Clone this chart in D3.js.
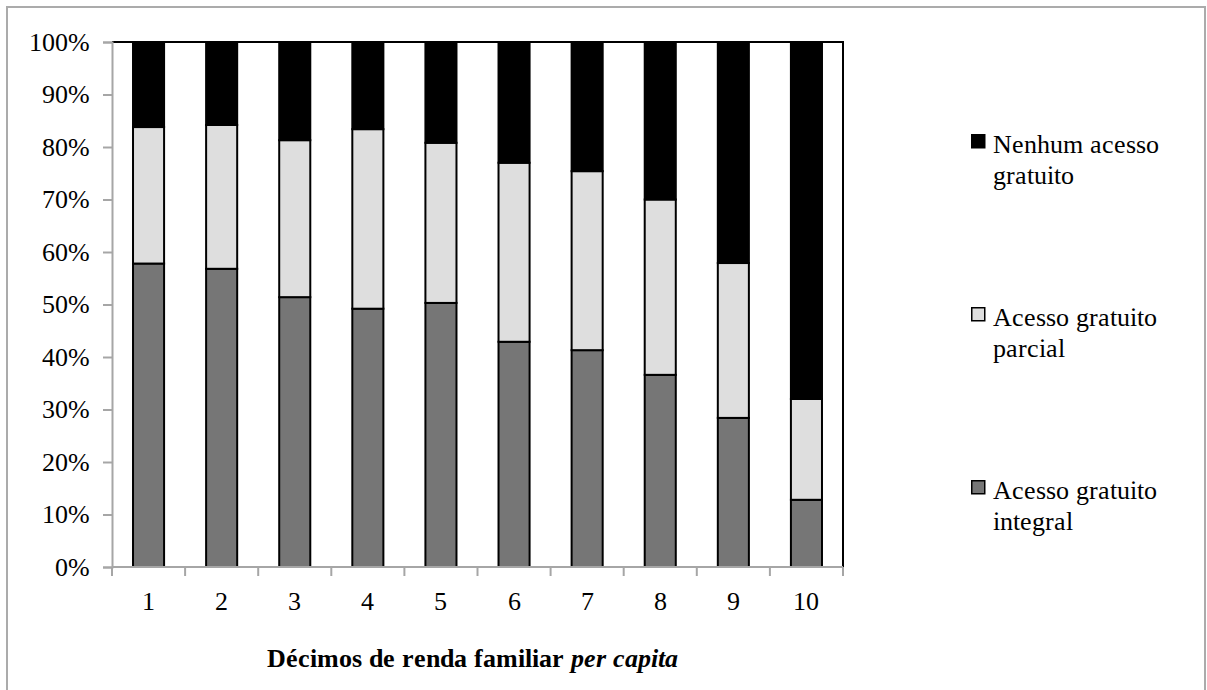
<!DOCTYPE html>
<html>
<head>
<meta charset="utf-8">
<script src="https://cdn.jsdelivr.net/npm/d3@7"></script>
<style>
  @font-face { font-family: "ChartSerif"; font-weight: 400; font-style: normal;
    src: local("Liberation Serif"), local("LiberationSerif"), local("LiberationSerif-Regular"), local("Times New Roman"), local("DejaVu Serif"); }
  @font-face { font-family: "ChartSerif"; font-weight: 700; font-style: normal;
    src: local("Liberation Serif Bold"), local("LiberationSerif-Bold"), local("Times New Roman Bold"), local("DejaVu Serif Bold"); }
  @font-face { font-family: "ChartSerif"; font-weight: 700; font-style: italic;
    src: local("Liberation Serif Bold Italic"), local("LiberationSerif-BoldItalic"), local("Times New Roman Bold Italic"), local("DejaVu Serif Bold Italic"); }
  html, body { margin: 0; padding: 0; background: #fff; }
  svg { display: block; }
  svg text { font-family: "ChartSerif", "Liberation Serif", "DejaVu Serif", serif; fill: #000; }
</style>
</head>
<body>
<svg id="chart" width="1207" height="690"></svg>
<script>
// Décimos de renda familiar per capita
const deciles = ["1", "2", "3", "4", "5", "6", "7", "8", "9", "10"];

// Share (%) of each access type per decile
const integral = [57.8, 56.8, 51.4, 49.2, 50.3, 42.9, 41.3, 36.6, 28.4, 12.8];
const parcial  = [26.0, 27.4, 29.9, 34.2, 30.5, 34.1, 34.1, 33.4, 29.5, 19.2];
const nenhum   = deciles.map((d, i) => +(100 - integral[i] - parcial[i]).toFixed(1));

const yTicks = [0, 10, 20, 30, 40, 50, 60, 70, 80, 90, 100];

const seriesKeys = ["integral", "parcial", "nenhum"];
const seriesNames = {
  nenhum: ["Nenhum acesso", "gratuito"],
  parcial: ["Acesso gratuito", "parcial"],
  integral: ["Acesso gratuito", "integral"]
};
const colors = { integral: "#767676", parcial: "#dedede", nenhum: "#000000" };

const rows = deciles.map((d, i) => ({
  decile: d, integral: integral[i], parcial: parcial[i], nenhum: nenhum[i]
}));

const svg = d3.select("#chart");

// outer frame
svg.append("rect")
  .attr("x", 7).attr("y", 7).attr("width", 1198).attr("height", 700)
  .attr("fill", "none").attr("stroke", "#ababab").attr("stroke-width", 2);

const plot = { left: 112, right: 843, top: 42, bottom: 567 };

const x = d3.scaleBand()
  .domain(deciles)
  .range([plot.left, plot.right])
  .paddingInner(0.575)
  .paddingOuter(0.2875);

const y = d3.scaleLinear().domain([0, 100]).range([plot.bottom, plot.top]);

const stacked = d3.stack().keys(seriesKeys)(rows);

// bars
const layers = svg.append("g").selectAll("g")
  .data(stacked)
  .join("g")
  .attr("fill", d => colors[d.key]);

layers.selectAll("rect")
  .data(d => d)
  .join("rect")
  .attr("x", d => x(d.data.decile))
  .attr("width", x.bandwidth())
  .attr("y", d => y(d[1]))
  .attr("height", d => y(d[0]) - y(d[1]))
  .attr("stroke", "#000")
  .attr("stroke-width", 2);

// plot frame: top and right edges in black
svg.append("path")
  .attr("d", `M${plot.left},${plot.top}H${plot.right}V${plot.bottom}`)
  .attr("fill", "none").attr("stroke", "#000").attr("stroke-width", 2);

// y axis
const yAxis = svg.append("g")
  .attr("transform", `translate(${plot.left},0)`)
  .call(d3.axisLeft(y).tickValues(yTicks).tickFormat(d => d + "%").tickSize(9).tickPadding(13));
yAxis.attr("font-size", 26);
yAxis.select(".domain").attr("stroke", "#a6a6a6").attr("stroke-width", 2);
yAxis.selectAll(".tick line").attr("stroke", "#a6a6a6").attr("stroke-width", 2);
yAxis.selectAll("text").attr("fill", "#000");

// x axis: ticks at category boundaries
const xAxis = svg.append("g")
  .attr("transform", `translate(0,${plot.bottom})`)
  .call(d3.axisBottom(x).tickSize(0).tickPadding(25));
xAxis.attr("font-size", 26);
xAxis.select(".domain").remove();
xAxis.selectAll("text").attr("fill", "#000");

const boundaries = d3.range(deciles.length + 1).map(i => plot.left + i * x.step());
xAxis.append("line")
  .attr("x1", plot.left).attr("x2", plot.right)
  .attr("stroke", "#a6a6a6").attr("stroke-width", 2);
xAxis.selectAll(".bound")
  .data(boundaries)
  .join("line")
  .attr("class", "bound")
  .attr("x1", d => d).attr("x2", d => d)
  .attr("y1", 0).attr("y2", 9)
  .attr("stroke", "#a6a6a6").attr("stroke-width", 2);

// x axis title
const title = svg.append("text")
  .attr("x", (plot.left + plot.right) / 2 - 5)
  .attr("y", 667)
  .attr("text-anchor", "middle")
  .attr("font-size", 26)
  .attr("font-weight", "bold");
title.append("tspan").text("Décimos de renda familiar ");
title.append("tspan").attr("font-style", "italic").text("per capita");

// legend
const legendItems = [
  { key: "nenhum", top: 134 },
  { key: "parcial", top: 307 },
  { key: "integral", top: 480 }
];
const legend = svg.append("g").selectAll("g")
  .data(legendItems)
  .join("g")
  .attr("transform", d => `translate(971,${d.top})`);

legend.append("rect")
  .attr("x", 0.75).attr("y", 0.75)
  .attr("width", 13).attr("height", 13)
  .attr("fill", d => colors[d.key])
  .attr("stroke", "#000").attr("stroke-width", 1.5);

legend.append("text")
  .attr("x", 22)
  .attr("y", 19)
  .attr("font-size", 26)
  .selectAll("tspan")
  .data(d => seriesNames[d.key])
  .join("tspan")
  .attr("x", 22)
  .attr("dy", (d, i) => i === 0 ? 0 : 31)
  .text(d => d);
</script>
</body>
</html>
